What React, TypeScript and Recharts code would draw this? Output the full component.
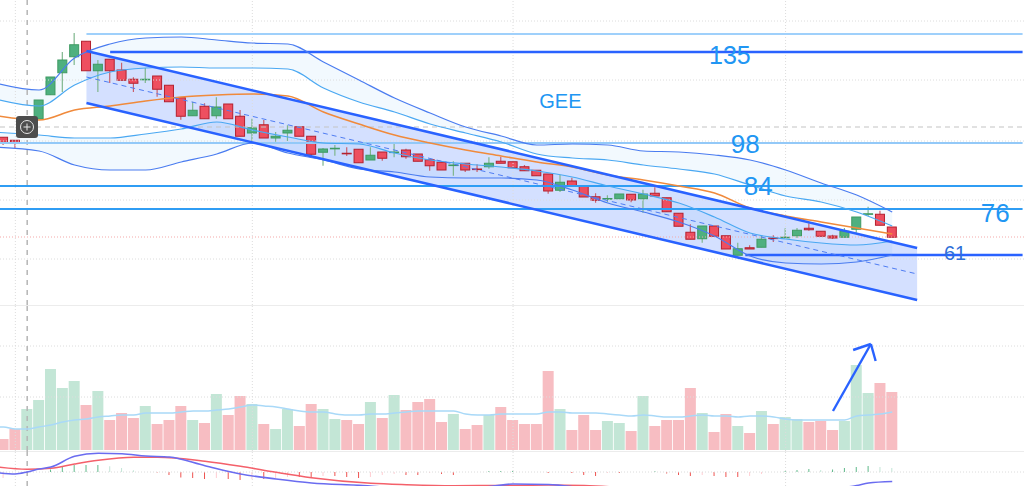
import { Area, Bar, Cell, ComposedChart, Line, ReferenceDot, ReferenceLine, XAxis, YAxis } from 'recharts'

// candles, one row per session: [open, high, low, close]
const ohlc: number[][] = [
  [101.1, 101.1, 98, 99.1], [99.9, 99.9, 96.8, 99.1], [101.6, 106.4, 101, 105.6], [108.4, 116, 108.4, 116],
  [118.1, 125.2, 118.1, 125.2], [126.9, 135.2, 119.2, 132], [133.3, 142.8, 130, 138.1], [139.5, 139.5, 127.7, 127.7],
  [127.7, 132, 119.2, 130.3], [132.3, 132.3, 122.8, 127.7], [128, 130.9, 123.9, 123.9], [124.3, 125.1, 119.2, 122.7],
  [124.1, 128.8, 122.8, 124.3], [125.6, 125.6, 117.3, 120.3], [121.9, 121.9, 115.3, 115.3], [116.9, 116.9, 108.1, 109.5],
  [109.7, 115.3, 109.7, 111.9], [113.5, 114.7, 108.5, 108.5], [109.7, 117.1, 108.5, 113.2], [114.4, 114.4, 108.5, 108.5],
  [109.5, 112, 101.5, 101.5], [102.8, 108.5, 99.6, 104.9], [106.1, 108, 100.8, 100.8], [100.8, 103.2, 99.3, 101.5],
  [102.8, 105.9, 99.6, 103.9], [105.3, 105.3, 101.5, 101.5], [101.5, 101.5, 93.3, 94.3], [95.1, 96.8, 89.7, 96.4],
  [96.6, 98, 93.7, 96.7], [94.7, 97.1, 93.6, 94.5], [96.3, 96.3, 90.9, 90.9], [92, 97.1, 92, 93.9],
  [95.2, 95.2, 91.7, 92.7], [95, 98.4, 93.1, 95.2], [96, 96.5, 92.5, 93.3], [94.4, 94.4, 91.5, 91.5],
  [92.1, 92.1, 87.7, 89.7], [91.1, 91.1, 88, 88], [89.8, 91.5, 85.7, 90], [90.7, 90.7, 87.2, 88],
  [88.4, 90.3, 87.2, 88.2], [89.3, 93.1, 88.5, 90.7], [91.5, 93.3, 90.7, 90.7], [91.3, 91.3, 88.9, 88.9],
  [89.3, 90, 87.7, 87.7], [87.9, 87.9, 85.7, 85.7], [86.4, 86.4, 78.5, 79.6], [79.9, 86, 79.2, 83.1],
  [83.6, 84.9, 81.6, 81.6], [81.6, 81.6, 77.2, 77.2], [77.3, 78.7, 74.9, 75.9], [76.4, 77.9, 75.2, 76.6],
  [76.5, 78.4, 76.5, 78.4], [78.3, 78.3, 75.1, 76], [76.5, 80.1, 70.9, 78.4], [78.7, 81.1, 77.6, 77.6],
  [76.9, 76.9, 71.3, 71.3], [70.7, 70.7, 65.5, 65.5], [63.1, 66.3, 60.3, 60.3], [60.5, 65.6, 58.9, 65.6],
  [65.6, 65.6, 61.5, 61.5], [61.7, 61.7, 56.4, 56.4], [53.9, 58.9, 53.9, 56.5], [56.9, 57.9, 56.4, 56.4],
  [57.1, 61.7, 57.1, 60.3], [60.8, 61.9, 59.2, 60.6], [60.9, 64.7, 60.7, 61.1], [61.7, 64.8, 60.8, 63.9],
  [64.7, 66.7, 63.7, 64.1], [63.5, 63.5, 61.5, 61.5], [61.6, 62.1, 60.4, 60.8], [61.1, 64.8, 61.1, 63.5],
  [64.3, 69.2, 62.9, 69.2], [70.3, 73.3, 69.6, 70.5], [70.3, 71.7, 65.9, 65.9], [65.2, 65.2, 61.1, 61.1],
]

const volumes = [
  11, 21, 41, 50, 81, 62, 69, 45, 59, 30, 37, 32, 44, 26, 30, 44, 30, 27, 56, 35, 54, 46, 26, 21, 41, 24, 46, 41, 31, 30, 26, 48, 32, 55, 40, 48, 51, 28, 36,
  21, 25, 35, 43, 30, 26, 26, 79, 41, 20, 35, 20, 29, 27, 19, 54, 24, 30, 30, 62, 37, 18, 36, 24, 17, 39, 26, 33, 31, 28, 29, 20, 29, 85, 57, 67, 58,
]
const volumeAvg = [
  23, 21, 21, 23, 25, 28, 30, 31, 33, 34, 35, 35, 37, 37, 37, 38, 39, 39, 40, 41, 43, 45, 44, 43, 41, 39, 38, 38, 36, 35, 35, 36, 36, 37, 38, 39, 39, 39, 39,
  36, 35, 35, 36, 36, 36, 36, 38, 38, 37, 37, 37, 36, 35, 34, 35, 34, 33, 33, 34, 35, 34, 34, 33, 34, 34, 33, 31, 30, 30, 30, 30, 30, 34, 35, 36, 38,
]

// bollinger bands and their basis, read every third session, first row just off the left edge
const bandIndex = [-1, 3, 6, 9, 12, 15, 18, 21, 24, 27, 30, 33, 36, 39, 42, 45, 48, 51, 54, 57, 60, 63, 66, 69, 72, 75]
const outerUpper = [123.2, 120, 132.8, 138.4, 140.8, 141.2, 140, 138.8, 138.4, 131.2, 124, 116.8, 110.8, 105.2, 101.6, 98, 98.4, 98, 95.6, 95.2, 94, 92, 88, 82.8, 78, 71.2]
const innerUpper = [116.8, 113.6, 122, 127.2, 128.8, 129.2, 128.8, 128.8, 128.4, 120.8, 115.2, 111.2, 106.4, 102.8, 99.2, 94.4, 92.8, 92, 90, 88.4, 86.4, 82, 77.6, 75.2, 71.2, 65.6]
const basis = [110, 108, 112, 113.6, 115.6, 117.2, 118, 118.4, 117.6, 111.2, 106.4, 102, 98.8, 96, 93.6, 91.2, 89.2, 86, 84, 81.6, 78.8, 72.8, 69.6, 67.2, 64.8, 62.4]
const innerLower = [103.2, 102, 100.8, 100.8, 102.4, 104.4, 107.2, 104, 101.2, 98.8, 98.4, 94.8, 92, 90.4, 89.2, 87.6, 85.2, 81.6, 78.4, 74.8, 69.2, 62.8, 60.4, 58.8, 58, 59.6]
const outerLower = [97.2, 95.6, 90, 88, 88, 91.2, 94.4, 98.8, 94.8, 92, 88.4, 87.2, 85.2, 84.8, 84.8, 84, 80, 74.8, 71.2, 67.2, 61.6, 53.6, 50.8, 50.4, 51.2, 54]

// trend channel end points
const channelIndex = [7, 77.1]
const channelUpper = [135.6, 56.8]
const channelMiddle = [125.2, 46.4]
const channelLower = [114.8, 36]

const macdIndex = [-1, 1, 2, 3, 4, 6, 8, 10, 12, 14, 17, 20, 23, 26, 30, 35, 41, 43, 46, 49, 60, 70, 72, 73, 75]
const macdLine = [0, -2, 0, 3, 5, 15.7, 18.7, 18.3, 16, 15, 6.3, -2, -7, -11, -13.3, -17, -14.5, -12, -12.5, -16, -24, -17, -13.5, -11, -9.5]
const signalIndex = [-1, 2, 4, 6, 8, 11, 13, 17, 20, 23, 26, 31, 34, 38, 43, 46, 49, 60, 75]
const signalLine = [5.7, 2.7, 3.7, 8, 11.7, 14.7, 14.7, 10.7, 5.7, -0.3, -5.7, -11.3, -12.7, -13.7, -13.5, -13, -13.5, -22, -18]
const histogram = [
  -6, 0, 0, 0, 2.5, 5, 7, 7, 7, 5.7, 4, 1.7, 0, -0.5, -3, -5.5, -6, -7, -6, -7, -8, -7, -7, -6, -5, -5, -6, -4, -4, -5, -6, -5, -3, -2, -3, -3, -1, -2, -3,
  0, 0, 1, 1, 1, 0, 0, -1, 0, -1, -3, -4, -1, -1, 0, 0, 1, -1.5, -3, -4, -3, -4, -5, -5, -4, -2, 0, 1, 2, 3, 2, 2.5, 4, 5, 6, 5, 4,
]

const gridPrices = [147.6, 124, 99.6, 76, 52.4]
const gridSessions = [1, 21, 43, 66]

const levels = [
  { price: 142.4, from: 7, color: '#9fd0fb', width: 2 },
  { price: 135.2, from: 9, color: '#2962ff', width: 2.4 },
  { price: 98.8, from: -1, color: '#93c9f8', width: 2 },
  { price: 81.6, from: -1, color: '#2f9df4', width: 1.8 },
  { price: 72.4, from: -1, color: '#2f9df4', width: 1.8 },
  { price: 54, from: 62.6, color: '#2962ff', width: 2.6 },
]

const notes = [
  { text: '135', at: 61.3, price: 134, size: 25, color: '#2196f3' },
  { text: 'GEE', at: 47, price: 115.6, size: 20, color: '#2196f3' },
  { text: '98', at: 62.6, price: 98.4, size: 26, color: '#2196f3' },
  { text: '84', at: 63.7, price: 81.6, size: 26, color: '#2196f3' },
  { text: '76', at: 83.7, price: 70.8, size: 26, color: '#2196f3' },
  { text: '61', at: 80.3, price: 54.8, size: 20, color: '#2f6fd8' },
]

const arrowShaft = [[70, 39], [73.2, 106]]
const arrowHead = [[71.7, 100], [73.2, 106], [73.6, 89]]

const sessions = ohlc.map(([open, high, low, close], i) => ({
  i, open, high, low, close, volume: volumes[i], hist: histogram[i],
}))
const avgRows = [{ i: -1, avg: volumeAvg[0] }, ...volumeAvg.map((avg, i) => ({ i, avg }))]
const bandRows = bandIndex.map((i, n) => ({
  i, outerUpper: outerUpper[n], innerUpper: innerUpper[n], basis: basis[n], innerLower: innerLower[n], outerLower: outerLower[n],
}))
const channelRows = channelIndex.map((i, n) => ({ i, upper: channelUpper[n], middle: channelMiddle[n], lower: channelLower[n] }))
const macdRows = macdIndex.map((i, n) => ({ i, macd: macdLine[n] }))
const signalRows = signalIndex.map((i, n) => ({ i, signal: signalLine[n] }))

const xDomain: [number, number] = [-0.295, 86.12]
const FONT = '"Liberation Sans", sans-serif'

const Candle = (props: any) => {
  const { x, y, width, height, payload } = props
  const { open, high, low, close } = payload
  const px = (v: number) => y + ((high - v) / (high - low)) * height
  const up = close >= open
  const edge = up ? '#3f9a62' : '#b3202f'
  const top = px(Math.max(open, close))
  const bottom = px(Math.min(open, close))
  return (
    <g>
      <line x1={x + width / 2} x2={x + width / 2} y1={y} y2={y + height} stroke={up ? '#7fb68d' : '#c9606c'} strokeWidth={1.2} />
      <rect x={x} y={top} width={width} height={Math.max(bottom - top, 0.6)} fill={up ? '#4fb07f' : '#ee4f60'} stroke={edge} strokeWidth={1} />
    </g>
  )
}

const flat = { dot: false, activeDot: false, isAnimationActive: false } as const

export default function App() {
  return (
    <div style={{ position: 'absolute', left: 0, top: 0, width: 1024, height: 486, background: '#fff', overflow: 'hidden', fontFamily: FONT }}>
      <div style={{ position: 'absolute', left: 0, top: 0 }}>
        <ComposedChart width={1024} height={305} data={sessions} margin={{ top: 0, right: 0, bottom: 0, left: 0 }}>
          <XAxis dataKey="i" type="number" domain={xDomain} hide allowDataOverflow />
          <YAxis type="number" domain={[34, 156]} hide allowDataOverflow />
          {gridPrices.map(p => <ReferenceLine key={p} y={p} stroke="#dcdcdc" strokeDasharray="1 2" />)}
          {gridSessions.map(s => <ReferenceLine key={s} x={s} stroke="#dcdcdc" strokeDasharray="1 2" />)}
          <ReferenceLine x={2} stroke="#b5b5b5" strokeWidth={1.5} strokeDasharray="5 5" />
          <ReferenceLine y={105.2} stroke="#c4c4c4" strokeWidth={1.2} strokeDasharray="5 4" />
          <ReferenceLine y={61.2} stroke="#f4a9a9" strokeDasharray="1 2" />
          <Area {...flat} data={bandRows} dataKey={(d: any) => [d.innerUpper, d.outerUpper]} type="monotone" stroke="none" fill="#2196f3" fillOpacity={0.06} legendType="none" />
          <Area {...flat} data={bandRows} dataKey={(d: any) => [d.outerLower, d.innerLower]} type="monotone" stroke="none" fill="#2196f3" fillOpacity={0.06} legendType="none" />
          <Area {...flat} data={channelRows} dataKey={(d: any) => [d.lower, d.upper]} type="linear" stroke="none" fill="#2962ff" fillOpacity={0.2} legendType="none" />
          {levels.map(l => (
            <ReferenceLine key={l.price} segment={[{ x: l.from, y: l.price }, { x: 86, y: l.price }]} stroke={l.color} strokeWidth={l.width} ifOverflow="visible" />
          ))}
          <Line {...flat} data={bandRows} dataKey="outerUpper" type="monotone" stroke="#4a7cf0" strokeWidth={1.2} />
          <Line {...flat} data={bandRows} dataKey="outerLower" type="monotone" stroke="#4a7cf0" strokeWidth={1.2} />
          <Line {...flat} data={bandRows} dataKey="innerUpper" type="monotone" stroke="#4aa8f2" strokeWidth={1.2} />
          <Line {...flat} data={bandRows} dataKey="innerLower" type="monotone" stroke="#4aa8f2" strokeWidth={1.2} />
          <Line {...flat} data={bandRows} dataKey="basis" type="monotone" stroke="#f08a3c" strokeWidth={1.6} />
          <Line {...flat} data={channelRows} dataKey="upper" stroke="#2962ff" strokeWidth={2.6} />
          <Line {...flat} data={channelRows} dataKey="lower" stroke="#2962ff" strokeWidth={2.6} />
          <Line {...flat} data={channelRows} dataKey="middle" stroke="#4f7df3" strokeWidth={1} strokeDasharray="5 4" />
          <Bar dataKey={(d: any) => [d.low, d.high]} barSize={9} shape={Candle} activeBar={false} isAnimationActive={false} />
          {notes.map(n => (
            <ReferenceDot key={n.text} x={n.at} y={n.price} r={0} fill="none" stroke="none"
              label={{ value: n.text, position: 'center', fontSize: n.size, fill: n.color, fontFamily: FONT }} />
          ))}
        </ComposedChart>
      </div>

      <div style={{ position: 'absolute', left: 0, top: 305 }}>
        <ComposedChart width={1024} height={146} data={sessions} margin={{ top: 0, right: 0, bottom: 0, left: 0 }}>
          <XAxis dataKey="i" type="number" domain={xDomain} hide allowDataOverflow />
          <YAxis type="number" domain={[-1, 145]} hide allowDataOverflow />
          <ReferenceLine y={144.5} stroke="#ececec" />
          <ReferenceLine y={104} stroke="#dcdcdc" strokeDasharray="1 2" />
          <ReferenceLine y={53} stroke="#dcdcdc" strokeDasharray="1 2" />
          {gridSessions.map(s => <ReferenceLine key={s} x={s} stroke="#dcdcdc" strokeDasharray="1 2" />)}
          <ReferenceLine x={2} stroke="#b5b5b5" strokeWidth={1.5} strokeDasharray="5 5" />
          <Bar dataKey="volume" barSize={11} activeBar={false} isAnimationActive={false}>
            {sessions.map(s => <Cell key={s.i} fill={s.close >= s.open ? '#c3e6d6' : '#f7bdc2'} />)}
          </Bar>
          <Line {...flat} data={avgRows} dataKey="avg" type="monotone" stroke="#a9d9f8" strokeWidth={1.5} />
          <ReferenceLine segment={[{ x: arrowShaft[0][0], y: arrowShaft[0][1] }, { x: arrowShaft[1][0], y: arrowShaft[1][1] }]} stroke="#2962ff" strokeWidth={2.4} ifOverflow="visible" />
          <ReferenceLine segment={[{ x: arrowHead[0][0], y: arrowHead[0][1] }, { x: arrowHead[1][0], y: arrowHead[1][1] }]} stroke="#2962ff" strokeWidth={2.4} ifOverflow="visible" />
          <ReferenceLine segment={[{ x: arrowHead[1][0], y: arrowHead[1][1] }, { x: arrowHead[2][0], y: arrowHead[2][1] }]} stroke="#2962ff" strokeWidth={2.4} ifOverflow="visible" />
        </ComposedChart>
      </div>

      <div style={{ position: 'absolute', left: 0, top: 451 }}>
        <ComposedChart width={1024} height={35} data={sessions} margin={{ top: 0, right: 0, bottom: 0, left: 0 }}>
          <XAxis dataKey="i" type="number" domain={xDomain} hide allowDataOverflow />
          <YAxis type="number" domain={[-14, 21]} hide allowDataOverflow />
          <ReferenceLine y={20.5} stroke="#ececec" />
          <ReferenceLine y={0} stroke="#dcdcdc" strokeDasharray="1 2" />
          {gridSessions.map(s => <ReferenceLine key={s} x={s} stroke="#dcdcdc" strokeDasharray="1 2" />)}
          <ReferenceLine x={2} stroke="#b5b5b5" strokeWidth={1.5} strokeDasharray="5 5" />
          <Bar dataKey="hist" barSize={1} activeBar={false} isAnimationActive={false}>
            {sessions.map((s, n) => {
              const growing = n > 0 && Math.abs(s.hist) >= Math.abs(histogram[n - 1])
              const fill = s.hist >= 0 ? (growing ? '#5fb98a' : '#c2e5d6') : (growing ? '#ef5350' : '#ffcdd2')
              return <Cell key={s.i} fill={fill} />
            })}
          </Bar>
          <Line {...flat} data={signalRows} dataKey="signal" type="monotone" stroke="#f4606a" strokeWidth={1.6} />
          <Line {...flat} data={macdRows} dataKey="macd" type="monotone" stroke="#6a6cf0" strokeWidth={1.6} />
        </ComposedChart>
      </div>

      <svg width={22} height={22} style={{ position: 'absolute', left: 16, top: 116 }}>
        <rect width={22} height={22} rx={3} fill="#4d4d4d" />
        <circle cx={11} cy={11} r={6.5} fill="none" stroke="#e6e6e6" strokeWidth={1} />
        <path d="M11 7.5v7M7.5 11h7" stroke="#e6e6e6" strokeWidth={1} />
      </svg>
    </div>
  )
}
